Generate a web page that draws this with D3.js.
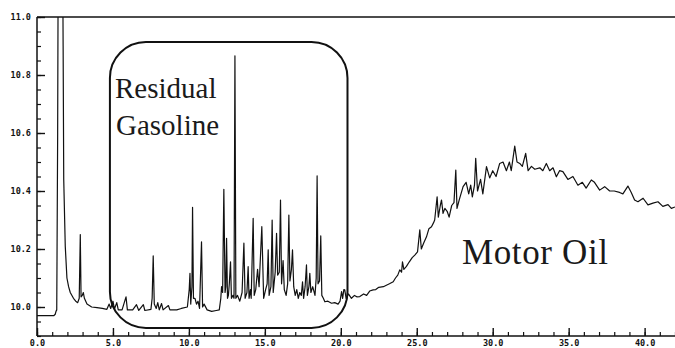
<!DOCTYPE html>
<html>
<head>
<meta charset="utf-8">
<script src="https://cdn.jsdelivr.net/npm/d3@7"></script>
<style>
html,body{margin:0;padding:0;background:#fff;}
svg{display:block;}
</style>
</head>
<body>
<svg id="chart" width="675" height="348"></svg>
<script>
// Retention time (min)
const times = [
0.0,1.1,1.2,1.25,1.3,1.36,1.4,1.68,1.72,1.76,1.86,1.97,2.08,2.19,2.4,2.55,2.68,2.78,2.85,2.9,
2.98,3.05,3.12,3.29,3.6,3.95,4.3,4.6,4.75,4.85,5.0,5.1,5.25,5.35,5.6,5.86,5.95,6.3,6.55,6.7,
7.0,7.1,7.5,7.58,7.65,7.72,7.85,7.95,8.05,8.2,8.3,8.65,8.75,9.2,9.5,9.9,10.02,10.07,10.12,10.2,
10.24,10.3,10.4,10.5,10.6,10.7,10.83,10.9,11.0,11.2,11.5,11.8,12.0,12.1,12.15,12.22,12.3,12.38,12.43,12.48,
12.54,12.6,12.66,12.74,12.8,12.9,12.97,13.03,13.09,13.2,13.35,13.5,13.62,13.7,13.82,13.9,13.96,14.05,14.1,14.23,
14.3,14.4,14.52,14.62,14.8,14.92,15.05,15.15,15.22,15.28,15.4,15.48,15.55,15.68,15.77,15.84,15.95,16.03,16.1,16.2,
16.28,16.4,16.5,16.58,16.65,16.75,16.82,16.9,17.0,17.1,17.2,17.3,17.4,17.48,17.55,17.65,17.74,17.8,17.9,17.96,
18.03,18.15,18.3,18.38,18.44,18.5,18.6,18.68,18.75,18.85,18.95,19.15,19.39,19.6,19.82,19.95,20.05,20.12,20.2,20.26,
20.35,20.5,20.7,20.9,21.05,21.25,21.5,21.7,21.9,22.13,22.3,22.5,22.8,23.0,23.2,23.45,23.6,23.75,23.88,24.0,
24.06,24.15,24.32,24.5,24.7,24.87,25.05,25.2,25.3,25.45,25.64,25.8,25.97,26.1,26.18,26.34,26.42,26.55,26.63,26.73,
26.85,27.0,27.13,27.3,27.45,27.57,27.65,27.8,28.05,28.25,28.42,28.55,28.66,28.8,28.88,29.0,29.2,29.35,29.59,29.8,
30.0,30.22,30.46,30.68,30.9,31.1,31.22,31.45,31.6,31.78,31.95,32.17,32.33,32.55,32.77,33.1,33.3,33.53,33.75,33.97,
34.19,34.4,34.62,34.95,35.28,35.61,35.9,36.15,36.49,36.7,37.04,37.37,37.7,38.0,38.35,38.57,38.9,39.12,39.34,39.56,
39.9,40.22,40.55,40.88,41.2,41.54,41.76,42.0
];
// Detector signal
const signal = [
9.97,9.97,9.975,9.985,9.99,10.6,11.3,11.3,10.9,10.44,10.21,10.10,10.07,10.05,10.03,10.02,10.015,10.03,10.25,10.035,
10.04,10.05,10.03,10.01,10.0,9.998,9.995,9.992,10.01,9.995,10.02,9.993,10.015,9.99,9.99,10.035,9.99,9.99,10.008,9.988,
10.008,9.988,9.992,10.03,10.176,10.01,9.995,10.015,9.99,10.012,9.99,10.005,9.99,9.99,9.995,10.0,10.06,10.116,10.01,10.07,
10.344,10.03,10.03,10.01,10.02,9.995,10.225,10.0,10.01,9.99,9.985,9.988,9.99,10.03,10.07,10.05,10.406,10.05,10.07,10.237,
10.03,10.04,10.08,10.156,10.03,10.04,10.03,10.866,10.03,10.04,10.02,10.05,10.22,10.03,10.05,10.139,10.03,10.06,10.03,10.306,
10.04,10.06,10.13,10.07,10.277,10.03,10.06,10.08,10.197,10.04,10.07,10.30,10.05,10.12,10.254,10.11,10.12,10.369,10.08,10.16,
10.06,10.04,10.08,10.317,10.09,10.13,10.197,10.07,10.04,10.06,10.03,10.05,10.04,10.087,10.03,10.07,10.145,10.04,10.07,10.116,
10.05,10.07,10.04,10.1,10.452,10.08,10.09,10.245,10.04,10.03,10.018,10.02,10.013,10.015,10.01,10.02,10.053,10.03,10.06,10.059,
10.03,10.045,10.03,10.04,10.035,10.036,10.045,10.04,10.055,10.059,10.06,10.068,10.07,10.075,10.08,10.087,10.1,10.11,10.128,10.12,
10.156,10.13,10.14,10.155,10.17,10.179,10.19,10.266,10.2,10.22,10.242,10.27,10.277,10.29,10.30,10.38,10.31,10.35,10.369,10.323,
10.34,10.33,10.31,10.35,10.36,10.472,10.34,10.37,10.415,10.43,10.39,10.42,10.38,10.42,10.513,10.4,10.44,10.39,10.484,10.445,
10.47,10.45,10.495,10.50,10.47,10.50,10.47,10.555,10.50,10.495,10.485,10.53,10.47,10.485,10.475,10.48,10.47,10.495,10.47,10.48,
10.449,10.47,10.467,10.44,10.45,10.42,10.43,10.41,10.438,10.43,10.403,10.415,10.40,10.40,10.395,10.39,10.417,10.395,10.369,10.363,
10.375,10.352,10.358,10.363,10.347,10.353,10.34,10.345
];
const xMajorTicks = [0,5,10,15,20,25,30,35,40];
const xTickLabels = ["0.0","5.0","10.0","15.0","20.0","25.0","30.0","35.0","40.0"];
const yMajorTicks = [10.0,10.2,10.4,10.6,10.8,11.0];
const yTickLabels = ["10.0","10.2","10.4","10.6","10.8","11.0"];
const annotations = ["Residual","Gasoline","Motor Oil"];

const svg = d3.select("#chart");
const pL = 37, pR = 675, pT = 17, pB = 336;
const x = d3.scaleLinear().domain([0,42]).range([pL,pR]);
const y = d3.scaleLinear().domain([9.9,11.0]).range([pB,pT]);

svg.append("defs").append("clipPath").attr("id","plotclip")
  .append("rect").attr("x",pL).attr("y",pT).attr("width",pR-pL).attr("height",pB-pT);

// minor x ticks
const xMinor = d3.range(0,43,1);
svg.append("g").attr("transform",`translate(0,${pB})`)
  .call(d3.axisBottom(x).tickValues(xMinor).tickSize(-4).tickFormat(""))
  .call(g=>g.select(".domain").remove())
  .call(g=>g.selectAll("line").attr("stroke","#111").attr("stroke-width",1.2));
// major x ticks
svg.append("g").attr("transform",`translate(0,${pB})`)
  .call(d3.axisBottom(x).tickValues(xMajorTicks).tickSize(-8).tickPadding(4)
        .tickFormat((d,i)=>xTickLabels[i]))
  .call(g=>g.select(".domain").remove())
  .call(g=>g.selectAll("line").attr("stroke","#111").attr("stroke-width",1.4))
  .call(g=>g.selectAll("text").attr("y",4).attr("dy","0.71em")
      .attr("font-family","'DejaVu Sans Mono', monospace").attr("font-weight","bold")
      .attr("font-size","8.5px").attr("fill","#111"));

// minor y ticks
const yMinor = d3.range(9.9,11.0001,0.05);
svg.append("g").attr("transform",`translate(${pL},0)`)
  .call(d3.axisLeft(y).tickValues(yMinor).tickSize(-4).tickFormat(""))
  .call(g=>g.select(".domain").remove())
  .call(g=>g.selectAll("line").attr("stroke","#111").attr("stroke-width",1.2));
// major y ticks
svg.append("g").attr("transform",`translate(${pL},0)`)
  .call(d3.axisLeft(y).tickValues(yMajorTicks).tickSize(-8).tickPadding(6)
        .tickFormat((d,i)=>yTickLabels[i]))
  .call(g=>g.select(".domain").remove())
  .call(g=>g.selectAll("line").attr("stroke","#111").attr("stroke-width",1.4))
  .call(g=>g.selectAll("text")
      .attr("font-family","'DejaVu Sans Mono', monospace").attr("font-weight","bold")
      .attr("font-size","8.5px").attr("fill","#111"));

// frame lines
svg.append("line").attr("x1",pL).attr("x2",pL).attr("y1",pT).attr("y2",pB)
  .attr("stroke","#111").attr("stroke-width",1.5);
svg.append("line").attr("x1",pL).attr("x2",pR).attr("y1",pB).attr("y2",pB)
  .attr("stroke","#111").attr("stroke-width",1.5);
svg.append("line").attr("x1",pL).attr("x2",pR).attr("y1",pT).attr("y2",pT)
  .attr("stroke","#111").attr("stroke-width",1.5);

// chromatogram trace
const n = Math.min(times.length, signal.length);
const pts = d3.range(n).map(i=>[times[i],signal[i]]);
svg.append("path").datum(pts)
  .attr("clip-path","url(#plotclip)")
  .attr("fill","none").attr("stroke","#111").attr("stroke-width",1.2)
  .attr("stroke-linejoin","round")
  .attr("d", d3.line().x(d=>x(d[0])).y(d=>y(d[1])));

// rounded box around residual gasoline
svg.append("rect")
  .attr("x",x(4.8)).attr("y",y(10.914)).attr("width",x(20.44)-x(4.8)).attr("height",y(9.928)-y(10.914))
  .attr("rx",36).attr("ry",36)
  .attr("fill","none").attr("stroke","#111").attr("stroke-width",2);

const serif = "'Liberation Serif','DejaVu Serif',serif";
svg.append("text").attr("x",115).attr("y",98).text(annotations[0])
  .attr("font-family",serif).attr("font-size","29px").attr("fill","#1a1a1a");
svg.append("text").attr("x",116).attr("y",135).text(annotations[1])
  .attr("font-family",serif).attr("font-size","29px").attr("fill","#1a1a1a");
svg.append("text").attr("x",462).attr("y",264).text(annotations[2])
  .attr("font-family",serif).attr("font-size","35px").attr("fill","#1a1a1a")
  .attr("textLength",146).attr("lengthAdjust","spacing");
</script>
</body>
</html>
